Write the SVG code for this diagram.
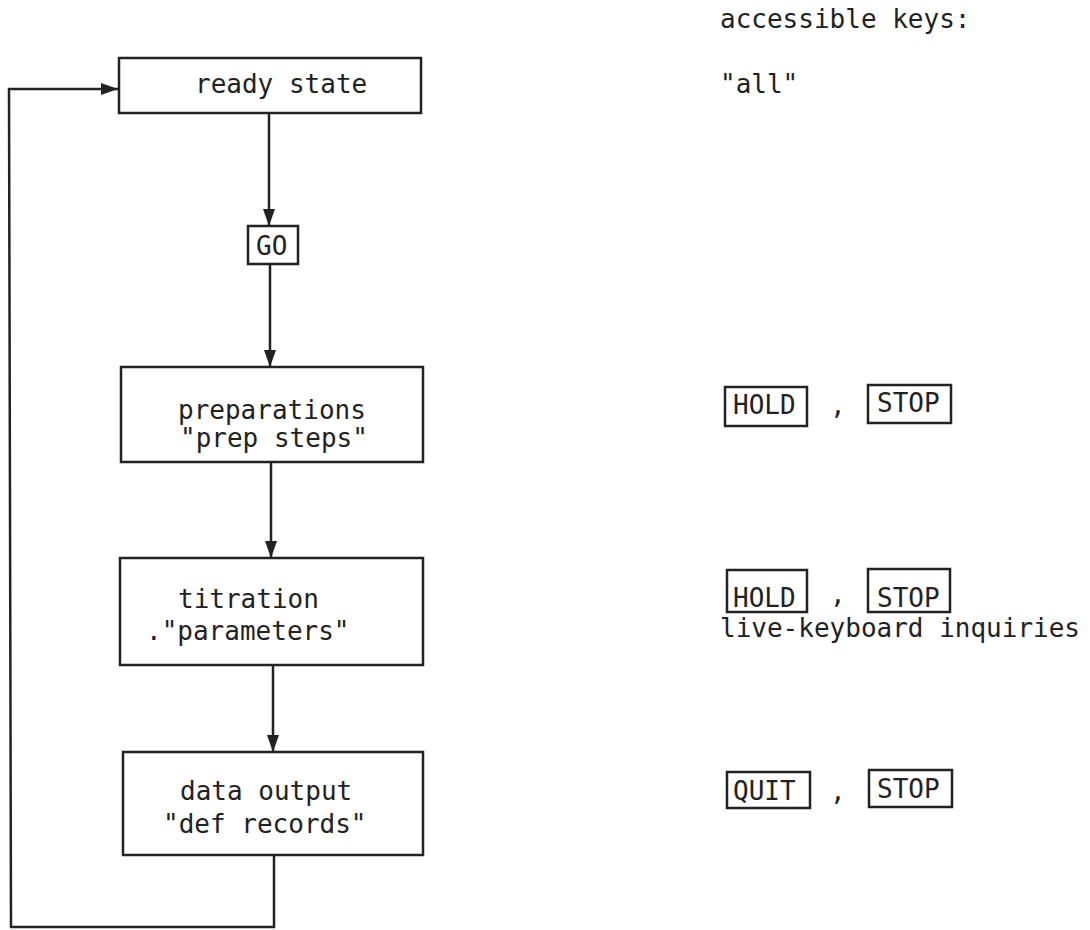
<svg xmlns="http://www.w3.org/2000/svg" width="1090" height="930" viewBox="0 0 1090 930">
<style>
.box{fill:#fff;stroke:#222;stroke-width:2.5}
.key{fill:none;stroke:#222;stroke-width:2.5}
.t{font-family:"DejaVu Sans Mono","Liberation Mono",monospace;font-size:26px;fill:#222}
.c{fill:none;stroke:#222;stroke-width:2.5}
</style>
<defs>
<marker id="ah" markerUnits="userSpaceOnUse" markerWidth="18" markerHeight="12" refX="17" refY="6" orient="auto">
<path d="M0,0 L17,6 L0,12 Z" fill="#222"/>
</marker>
</defs>
<rect width="1090" height="930" fill="#fff"/>
<g id="connectors">
<line class="c" x1="269" y1="113" x2="269" y2="226" marker-end="url(#ah)"/>
<line class="c" x1="270" y1="264" x2="270" y2="367" marker-end="url(#ah)"/>
<line class="c" x1="271" y1="462" x2="271" y2="558" marker-end="url(#ah)"/>
<line class="c" x1="273" y1="665" x2="273" y2="752" marker-end="url(#ah)"/>
<polyline class="c" points="274,855 274,927 11,927 9,89 118,89" marker-end="url(#ah)"/>
</g>
<g id="ready">
<rect class="box" x="119" y="58" width="302" height="55"/>
<text class="t" x="195" y="93">ready state</text>
</g>
<g id="go">
<rect class="box" x="248" y="226" width="50" height="38"/>
<text class="t" x="256" y="255">GO</text>
</g>
<g id="prep">
<rect class="box" x="121" y="367" width="302" height="95"/>
<text class="t" x="178" y="419">preparations</text>
<text class="t" x="180" y="447">"prep steps"</text>
</g>
<g id="titration">
<rect class="box" x="120" y="558" width="303" height="107"/>
<text class="t" x="178" y="608">titration</text>
<text class="t" x="146" y="640">."parameters"</text>
</g>
<g id="output">
<rect class="box" x="123" y="752" width="300" height="103"/>
<text class="t" x="180" y="800">data output</text>
<text class="t" x="163" y="833">"def records"</text>
</g>
<g id="keys-title">
<text class="t" x="720" y="28">accessible keys:</text>
<text class="t" x="720" y="93">"all"</text>
</g>
<g id="keys-prep">
<rect class="key" x="725" y="387" width="82" height="39"/>
<text class="t" x="733" y="414">HOLD</text>
<text class="t" x="830" y="414">,</text>
<rect class="key" x="868" y="385" width="83" height="38"/>
<text class="t" x="877" y="412">STOP</text>
</g>
<g id="keys-titration">
<rect class="key" x="727" y="570" width="80" height="42"/>
<text class="t" x="733" y="607">HOLD</text>
<text class="t" x="830" y="603">,</text>
<rect class="key" x="868" y="569" width="82" height="43"/>
<text class="t" x="877" y="607">STOP</text>
<text class="t" x="720" y="637">live-keyboard inquiries</text>
</g>
<g id="keys-output">
<rect class="key" x="727" y="772" width="83" height="36"/>
<text class="t" x="733" y="800">QUIT</text>
<text class="t" x="830" y="800">,</text>
<rect class="key" x="869" y="770" width="83" height="37"/>
<text class="t" x="877" y="798">STOP</text>
</g>
</svg>
